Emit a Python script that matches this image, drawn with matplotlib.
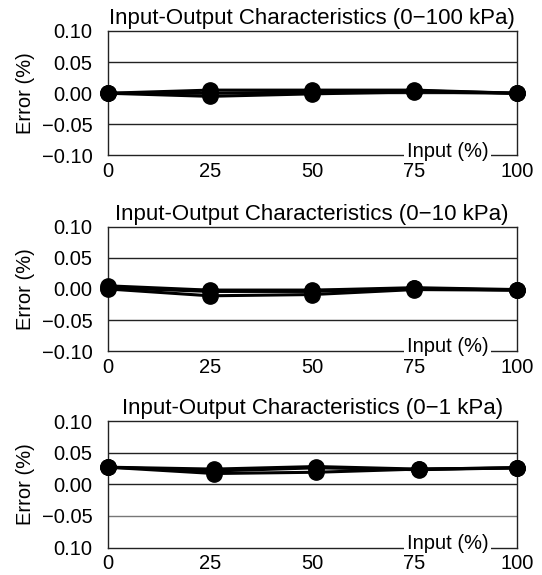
import numpy as np
import matplotlib
matplotlib.use("Agg")
import matplotlib.pyplot as plt

plt.rcParams['font.family'] = ['Liberation Sans', 'DejaVu Sans']

# Error (%) vs Input (%), three runs per range
titles = ["Input-Output Characteristics (0\u2212100 kPa)",
          "Input-Output Characteristics (0\u221210 kPa)",
          "Input-Output Characteristics (0\u22121 kPa)"]

x_100 = [0, 25, 50, 75, 100]
err_100_a = [0.0, 0.005, 0.005, 0.005, 0.0]
err_100_b = [0.0, -0.005, -0.001, 0.002, 0.0]
err_100_c = [0.0, 0.0, 0.002, 0.004, 0.0]

x_10 = [0, 25, 50, 75, 100]
err_10_a = [0.005, -0.002, -0.002, 0.002, -0.001]
err_10_b = [0.0, -0.011, -0.009, -0.001, -0.002]
err_10_c = [0.002, -0.004, -0.004, 0.001, -0.002]

x_1 = [0, 26, 51, 76, 100]
err_1_a = [0.027, 0.024, 0.028, 0.024, 0.026]
err_1_b = [0.027, 0.017, 0.019, 0.024, 0.026]
err_1_c = [0.027, 0.021, 0.026, 0.023, 0.026]

y_ticks = [-0.10, -0.05, 0.0, 0.05, 0.10]
y_labels_std = ["\u22120.10", "\u22120.05", "0.00", "0.05", "0.10"]
y_labels_last = ["0.10", "\u22120.05", "0.00", "0.05", "0.10"]
x_ticks = [0, 25, 50, 75, 100]

panels = [
    (x_100, [err_100_a, err_100_b, err_100_c], y_labels_std),
    (x_10, [err_10_a, err_10_b, err_10_c], y_labels_std),
    (x_1, [err_1_a, err_1_b, err_1_c], y_labels_last),
]

fig = plt.figure(figsize=(5.42, 5.75), dpi=100)
rects = [[0.1987, 0.7296, 0.7546, 0.2165],
         [0.1987, 0.3890, 0.7546, 0.2170],
         [0.1987, 0.0478, 0.7546, 0.2200]]

for i, (xs, series, ylabs) in enumerate(panels):
    ax = fig.add_axes(rects[i])
    for yv in [-0.05, 0.0, 0.05]:
        c = '#777777' if (i == 2 and yv == -0.05) else '#222222'
        ax.axhline(yv, color=c, lw=1.0, zorder=1)
    for s in series:
        ax.plot(xs, s, color='black', lw=2.2, marker='o', markersize=11,
                clip_on=False, zorder=3)
    ax.set_xlim(0, 100)
    ax.set_ylim(-0.10, 0.10)
    ax.set_xticks(x_ticks)
    ax.set_xticklabels([str(t) for t in x_ticks])
    ax.set_yticks(y_ticks)
    ax.set_yticklabels(ylabs)
    ax.tick_params(length=0, labelsize=14.5)
    ax.tick_params(axis='y', pad=11)
    ax.tick_params(axis='x', pad=5)
    ax.xaxis.set_zorder(6)
    for sp in ax.spines.values():
        sp.set_linewidth(1.0)
        sp.set_color('#222222')
    ax.set_title(titles[i], fontsize=16, pad=5)
    ax.set_ylabel("Error (%)", fontsize=14.5, labelpad=5)
    ax.text(0.831, 0.035, "Input (%)", transform=ax.transAxes, ha='center',
            va='center', fontsize=14.5, zorder=5,
            bbox=dict(facecolor='white', edgecolor='none', pad=2))

fig.savefig("out.png", dpi=100)
